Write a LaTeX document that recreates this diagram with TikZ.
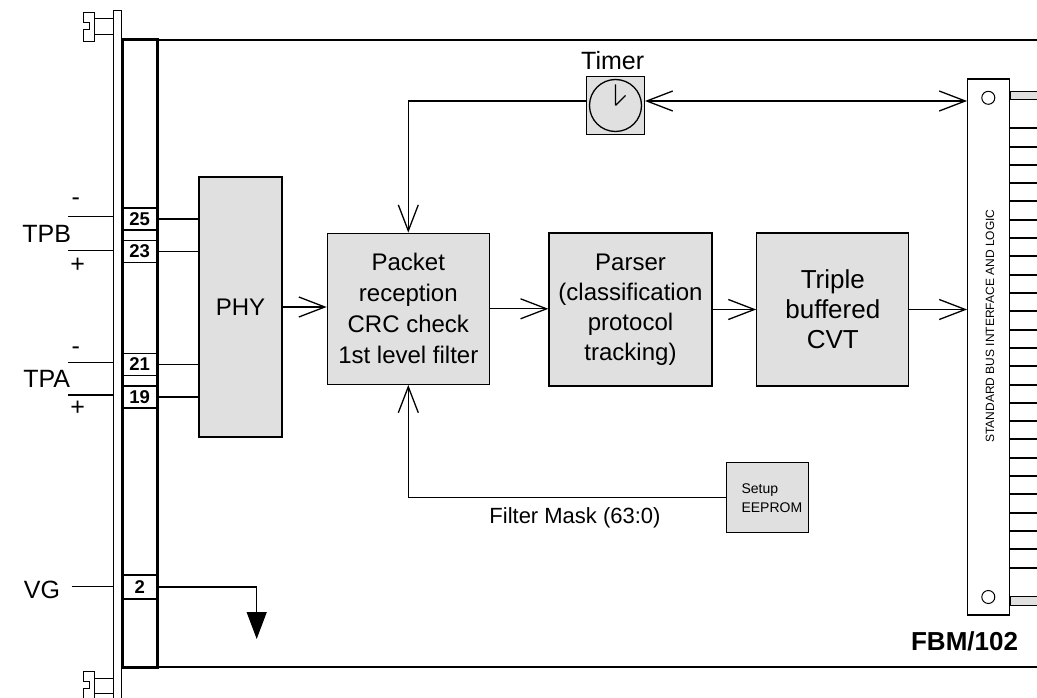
\documentclass[tikz,border=0pt]{standalone}
\usepackage{fontspec}
\setmainfont{Liberation Sans}
\usetikzlibrary{arrows.meta,positioning}
\definecolor{boxgray}{RGB}{224,224,224}

\begin{document}
\begin{tikzpicture}[x=1pt, y=-1pt, line width=1.3pt,
  >={Straight Barb[length=26pt,width=20pt]},
  block/.style={draw, fill=boxgray, align=center, inner sep=0pt, font=\fontsize{24}{31}\selectfont},
  pin/.style={draw, fill=white, minimum width=34pt, minimum height=22pt, inner sep=0pt, font=\fontsize{18.5}{18.5}\selectfont\bfseries},
  lbl/.style={font=\fontsize{25}{25}\selectfont}]

\useasboundingbox (0,0) rectangle (1037,698);

% Front panel and screws
\node[draw, line width=1pt, minimum width=8.4pt, minimum height=700pt, inner sep=0pt] (panel) at (117.5,361) {};
\foreach \dy in {0,659}
  \draw[line width=1pt, shift={(0,\dy)}] (83.3,12.7) -- (94.3,12.7) -- (94.3,41.7) -- (83.3,41.7) -- (83.3,29.3) -- (89,29.3) -- (89,22.7) -- (83.3,22.7) -- cycle
    (94.3,19) rectangle (113.3,34.7);

% Card outline
\draw (157,40) -- (1040,40);
\draw (157,667) -- (1040,667);

% Connector pins
\node[pin] (p25) at (139.7,219) {25};
\node[pin] (p23) at (139.7,251.5) {23};
\node[pin] (p21) at (139.7,364.5) {21};
\node[pin] (p19) at (139.7,397) {19};
\node[pin, minimum height=24pt] (p2) at (139.7,587) {2};
\draw[line width=3pt] (122.5,40) rectangle (157,667);

% Bus wires
\coordinate (tpbm) at (68,216.7);
\coordinate (tpbp) at (68,250.7);
\coordinate (tpam) at (68,362.7);
\coordinate (tpap) at (68,395);
\coordinate (vgw) at (71.7,586.7);
\draw (tpbm) -- (tpbm -| panel.west);
\draw (tpbp) -- (tpbp -| panel.west);
\draw (tpam) -- (tpam -| panel.west);
\draw (tpap) -- (tpap -| panel.west);
\draw (vgw) -- (vgw -| panel.west);

\node[lbl] (tpb) at (46.7,234) {TPB};
\node[lbl] (tpa) at (46.7,379) {TPA};
\node[lbl] (vg) at (42,590) {VG};
\node[lbl] (tpbminus) at (75.7,201.7) {-};
\node[lbl] (tpbplus) at (77.7,265) {+};
\node[lbl] (tpaminus) at (75.7,350.7) {-};
\node[lbl] (tpaplus) at (77.7,408.3) {+};

% Data path
\node[block, minimum width=83pt, minimum height=260pt] (phy) at (240.5,307) {PHY};
\node[block, minimum width=162pt, minimum height=151pt] (packet) at (408.3,308.8) {Packet\\reception\\CRC check\\1st level filter};
\node[block, minimum width=163pt, minimum height=153pt, font=\fontsize{24}{30}\selectfont] (parser) at (630.5,309.5) {Parser\\(classification\\protocol\\tracking)};
\node[block, minimum width=152pt, minimum height=153pt, font=\fontsize{26}{30}\selectfont] (cvt) at (832.8,309.5) {Triple\\buffered\\CVT};

\draw (p25.east) -- (p25.east -| phy.west);
\draw (p23.east) -- (p23.east -| phy.west);
\draw (p21.east) -- (p21.east -| phy.west);
\draw (p19.east) -- (p19.east -| phy.west);

% Bus interface
\node[draw, fill=white, minimum width=41.6pt, minimum height=536pt, inner sep=0pt] (bus) at (988.5,347) {};
\node[rotate=90, font=\fontsize{12}{12}\selectfont] (buslbl) at (990,326) {STANDARD BUS INTERFACE AND LOGIC};
\draw[line width=1pt] (988.3,97.8) circle (6.5pt) (988.3,597) circle (6.5pt);
\draw[line width=1pt, fill=boxgray] (1010,91.7) rectangle (1040,100) (1010,596) rectangle (1040,605);
\foreach \i in {0,...,24}
  \draw[line width=2pt] (1009.3,{128.3+18.3*\i}) -- (1040,{128.3+18.3*\i});

\draw[->] (phy.east) -- (phy.east -| packet.west);
\draw[->] (packet.east) -- (packet.east -| parser.west);
\draw[->] (parser.east) -- (parser.east -| cvt.west);
\draw[->] (cvt.east) -- (cvt.east -| bus.west);

% Timer
\node[draw, fill=boxgray, minimum size=57.6pt, inner sep=0pt] (timer) at (615.5,105.5) {};
\draw (timer.center) circle (26pt);
\draw (timer.center) -- ++(0,-21) (timer.center) -- ++(10,-10);
\node[lbl, anchor=base] (timerlbl) at (612.7,69.3) {Timer};
\coordinate (tmw) at ([yshift=4.5pt]timer.west);
\coordinate (tme) at ([yshift=4.5pt]timer.east);
\draw[->] (tmw) -| (packet.north);
\draw[<->] (tme) -- (tme -| bus.west);

% Filter mask
\node[block, minimum width=81.6pt, minimum height=70pt, text width=52pt, align=left, font=\fontsize{14}{19}\selectfont] (eeprom) at (767.5,497.7) {Setup\\EEPROM};
\draw[->] (eeprom.west) -| (packet.south);
\node[font=\fontsize{22}{22}\selectfont] (fmask) at (575,518) {Filter Mask (63:0)};

% Ground
\coordinate (gnd) at (256.7,639);
\draw[-{Triangle[length=27pt,width=20pt]}] (p2.east) -| (gnd);

\node[anchor=base east, font=\fontsize{26}{26}\selectfont\bfseries] (fbm) at (1022,650) {FBM/102};

\end{tikzpicture}
\end{document}
